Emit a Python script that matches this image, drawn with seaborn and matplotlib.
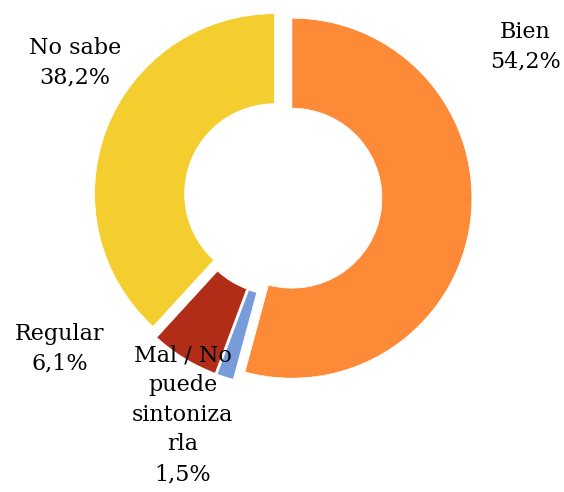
import matplotlib
matplotlib.use("Agg")
import matplotlib.pyplot as plt
import seaborn as sns

# -------- DATA --------
categories = ["Bien", "Mal / No puede sintonizarla", "Regular", "No sabe"]
label_texts = ["Bien", "Mal / No\npuede\nsintoniza\nrla", "Regular", "No sabe"]
values = [54.2, 1.5, 6.1, 38.2]
colors = ["#FD8A37", "#789CDA", "#B12D18", "#F4CD2E"]

# label anchor positions (data coords, radius = 1)
label_pos = [(1.345, 0.835), (-0.556, -1.21), (-1.239, -0.845), (-1.156, 0.745)]

sns.set_style("white")
plt.rcParams["font.family"] = ["DejaVu Serif"]

fig = plt.figure(figsize=(5.64, 4.92), dpi=100)
ax = fig.add_axes([0, 0, 1, 1])

cx, cy, r = 283, 197, 180
ax.pie(
    values,
    colors=colors,
    startangle=90,
    counterclock=False,
    explode=[0.05] * len(values),
    radius=1,
    wedgeprops=dict(width=0.5, edgecolor="white", linewidth=0.5),
)

for txt, val, (x, y) in zip(label_texts, values, label_pos):
    s = f"{txt}\n{val:.1f}%".replace(".", ",")
    ax.text(x, y, s, ha="center", va="center", fontsize=16, linespacing=1.45, color="black")

ax.set_xlim(-cx / r, (564 - cx) / r)
ax.set_ylim(-(492 - cy) / r, cy / r)
ax.set_aspect("equal")
ax.axis("off")

fig.savefig("out.png", dpi=100)
